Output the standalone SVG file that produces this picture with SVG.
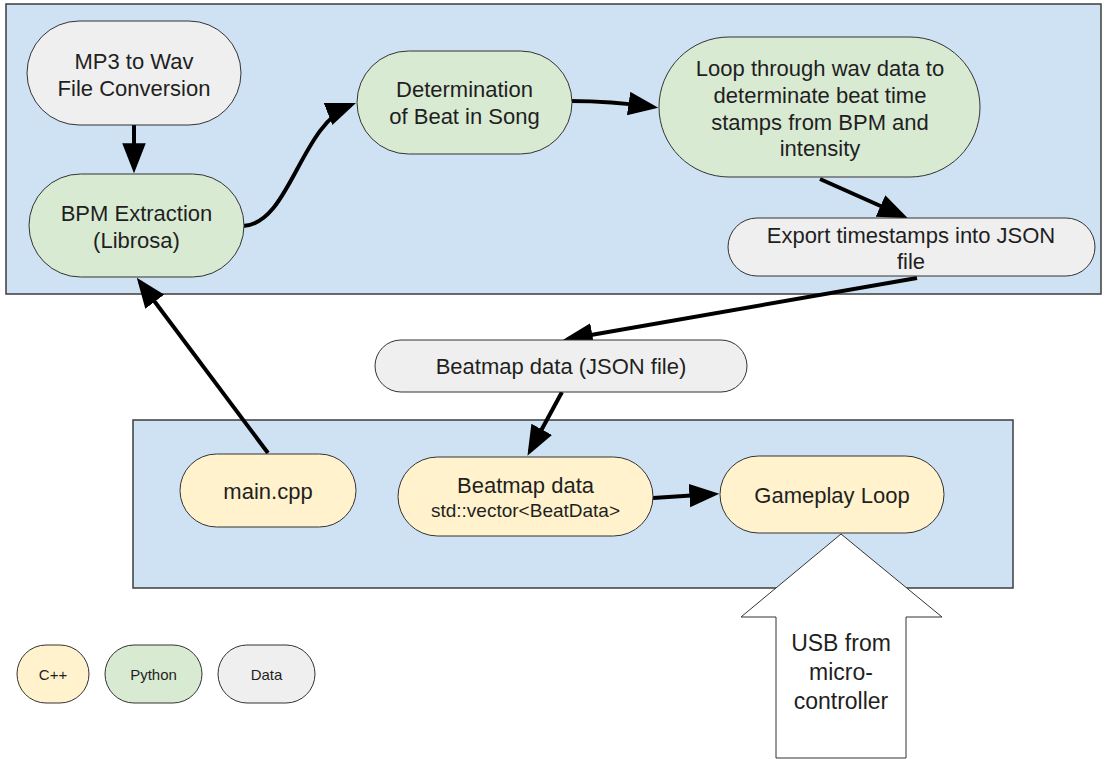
<svg xmlns="http://www.w3.org/2000/svg" width="1108" height="759" viewBox="0 0 1108 759">
  <style>
    .panel { fill: #cfe2f3; stroke: #3c3c3c; stroke-width: 1.5; }
    .node { stroke: #333333; stroke-width: 1; }
    .data { fill: #efefef; }
    .py { fill: #d9ead3; }
    .cpp { fill: #fff2cc; }
    text { font-family: "Liberation Sans", Arial, sans-serif; fill: #1f1f1f; text-anchor: middle; }
    .t22 { font-size: 22px; }
    .t19 { font-size: 19px; }
    .t23 { font-size: 23px; }
    .t15 { font-size: 15px; }
    .edge { fill: none; stroke: #000000; stroke-width: 4; marker-end: url(#head); }
  </style>
  <defs>
    <marker id="head" markerUnits="userSpaceOnUse" markerWidth="30" markerHeight="24" viewBox="0 0 28 22" refX="23" refY="11" orient="auto">
      <path d="M0,0 L28,11 L0,22 z" fill="#000000"/>
    </marker>
  </defs>

  <!-- background -->
  <rect x="0" y="0" width="1108" height="759" fill="#ffffff"/>

  <!-- panels -->
  <rect class="panel" x="6" y="4" width="1095" height="290"/>
  <rect class="panel" x="133" y="420" width="880" height="168"/>

  <!-- connectors -->
  <g id="connectors">
    <path class="edge" d="M134,125 L134,168"/>
    <path class="edge" d="M243,226 C290,224 300,125 351,105"/>
    <path class="edge" d="M570,101 C605,101 625,103 653,107"/>
    <path class="edge" d="M820,179 L903,216"/>
    <path class="edge" d="M917,278 L568,339"/>
    <path class="edge" d="M562,392 L530,451"/>
    <path class="edge" d="M653,498 L714,494"/>
    <path class="edge" d="M268,453 L140,282"/>
  </g>

  <!-- top panel nodes -->
  <g id="mp3-to-wav">
    <rect class="node data" x="27" y="21" width="214" height="104" rx="52"/>
    <text class="t22" x="134" y="69">MP3 to Wav</text>
    <text class="t22" x="134" y="96">File Conversion</text>
  </g>
  <g id="bpm-extraction">
    <rect class="node py" x="29" y="174" width="215" height="103" rx="51.5"/>
    <text class="t22" x="136.5" y="221">BPM Extraction</text>
    <text class="t22" x="136.5" y="248">(Librosa)</text>
  </g>
  <g id="beat-determination">
    <rect class="node py" x="357" y="51" width="215" height="103" rx="51.5"/>
    <text class="t22" x="464.5" y="97">Determination</text>
    <text class="t22" x="464.5" y="124">of Beat in Song</text>
  </g>
  <g id="timestamp-loop">
    <rect class="node py" x="659" y="37" width="321" height="140" rx="70"/>
    <text class="t22" x="820" y="76">Loop through wav data to</text>
    <text class="t22" x="820" y="103">determinate beat time</text>
    <text class="t22" x="820" y="130">stamps from BPM and</text>
    <text class="t22" x="820" y="156">intensity</text>
  </g>
  <g id="json-export">
    <rect class="node data" x="728" y="218" width="367" height="58" rx="29"/>
    <text class="t22" x="911" y="243">Export timestamps into JSON</text>
    <text class="t22" x="911" y="269">file</text>
  </g>

  <!-- shared data -->
  <g id="beatmap-json">
    <rect class="node data" x="375" y="340" width="372" height="52" rx="26"/>
    <text class="t22" x="561" y="374">Beatmap data (JSON file)</text>
  </g>

  <!-- bottom panel nodes -->
  <g id="main-cpp">
    <rect class="node cpp" x="180" y="454" width="176" height="73" rx="36.5"/>
    <text class="t22" x="268" y="499">main.cpp</text>
  </g>
  <g id="beatmap-vector">
    <rect class="node cpp" x="398" y="457" width="255" height="79" rx="39.5"/>
    <text class="t22" x="525.5" y="493">Beatmap data</text>
    <text class="t19" x="525.5" y="517">std::vector&lt;BeatData&gt;</text>
  </g>
  <g id="gameplay-loop">
    <rect class="node cpp" x="720" y="456" width="224" height="77" rx="38.5"/>
    <text class="t22" x="832" y="503">Gameplay Loop</text>
  </g>

  <!-- hardware input block arrow -->
  <g id="usb-input">
    <polygon class="node" fill="#ffffff" points="841,534 942,617 906,617 906,758 776,758 776,617 741,617"/>
    <text class="t23" x="841" y="651">USB from</text>
    <text class="t23" x="841" y="680">micro-</text>
    <text class="t23" x="841" y="709">controller</text>
  </g>

  <!-- legend -->
  <g id="legend-cpp">
    <rect class="node cpp" x="17" y="645" width="72" height="58" rx="29"/>
    <text class="t15" x="53" y="680">C++</text>
  </g>
  <g id="legend-python">
    <rect class="node py" x="105" y="645" width="97" height="58" rx="29"/>
    <text class="t15" x="153.5" y="680">Python</text>
  </g>
  <g id="legend-data">
    <rect class="node data" x="218" y="645" width="97" height="58" rx="29"/>
    <text class="t15" x="266.5" y="680">Data</text>
  </g>
</svg>
